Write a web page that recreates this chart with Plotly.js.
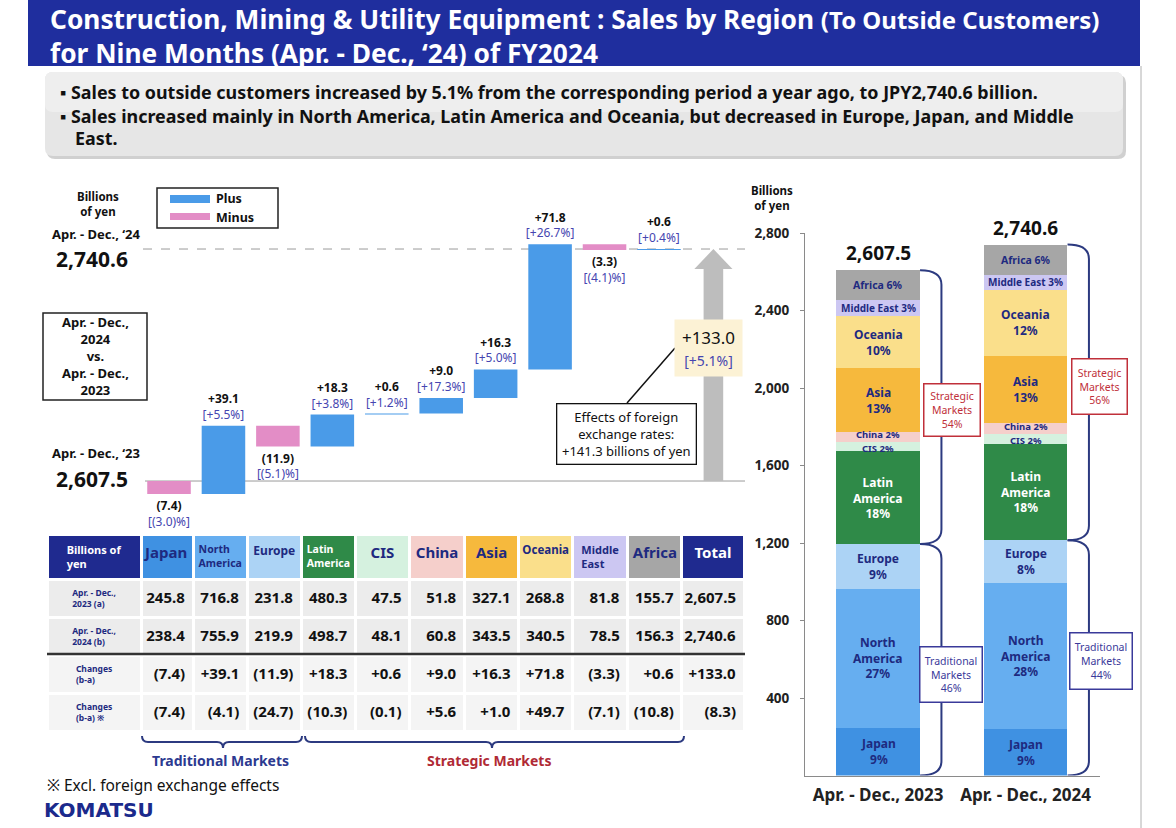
<!DOCTYPE html>
<html><head><meta charset="utf-8">
<script src="https://cdn.plot.ly/plotly-3.0.1.min.js"></script>
<style>html,body{margin:0;padding:0;background:#fff}#chart{width:1176px;height:828px}</style>
</head><body><div id="chart"></div>
<script>
// ---------------- data ----------------
const regions = ['Japan','North America','Europe','Latin America','CIS','China','Asia','Oceania','Middle East','Africa'];
const headerLabels = ['Japan','North<br>America','Europe','Latin<br>America','CIS','China','Asia','Oceania','Middle<br>East','Africa','Total'];
const rowLabels = ['Apr. - Dec.,<br>2023 (a)','Apr. - Dec.,<br>2024 (b)','Changes<br>(b-a)','Changes<br>(b-a) ※'];
const sales2023 = [245.8,716.8,231.8,480.3,47.5,51.8,327.1,268.8,81.8,155.7];
const sales2024 = [238.4,755.9,219.9,498.7,48.1,60.8,343.5,340.5,78.5,156.3];
const changes = [-7.4,39.1,-11.9,18.3,0.6,9.0,16.3,71.8,-3.3,0.6];
const changePct = [-3.0,5.5,-5.1,3.8,1.2,17.3,5.0,26.7,-4.1,0.4];
const changesExFx = [-7.4,-4.1,-24.7,-10.3,-0.1,5.6,1.0,49.7,-7.1,-10.8];
const total2023 = 2607.5, total2024 = 2740.6, totalChange = 133.0, totalChangePct = 5.1, totalExFx = -8.3;
const fxEffect = 141.3;
const share2023 = [9,27,9,18,2,2,13,10,3,6];
const share2024 = [9,28,8,18,2,2,13,12,3,6];
const periodLabels = ['Apr. - Dec., 2023','Apr. - Dec., 2024'];
const traditionalShare = [46,44];
const strategicShare = [54,56];
const yTicks2 = [400,800,1200,1600,2000,2400,2800];

// ---------------- style ----------------
const FONT = 'Noto Sans, Liberation Sans, Arial, sans-serif';
const NAVY = '#1e2a80';
const RED = '#c0303a';
const PCT = '#4545b0';
const regionColors = ['#3f91e2','#66aef0','#acd3f5','#2f8a48','#d5f1df','#f5cfcb','#f6b93d','#fadf8b','#ccc7f2','#a6a6a6'];
const regionTextColors = [NAVY,NAVY,NAVY,'#ffffff',NAVY,NAVY,NAVY,NAVY,NAVY,NAVY];
const W = 1176, H = 828;
const X = p => p / W;
const Y = p => 1 - p / H;

const fmt1 = v => v.toLocaleString('en-US',{minimumFractionDigits:1,maximumFractionDigits:1});
const fmtChange = v => v >= 0 ? '+' + fmt1(v) : '(' + fmt1(-v) + ')';
const fmtPct = v => v >= 0 ? '[+' + v.toFixed(1) + '%]' : '[(' + (-v).toFixed(1) + ')%]';

// ---------------- traces ----------------
const traces = [];

// waterfall
traces.push({
  type:'waterfall', xaxis:'x', yaxis:'y',
  x: regions.map((_,i)=>i), y: changes, base: total2023,
  measure: regions.map(()=> 'relative'),
  width: 0.8,
  text: changes.map((v,i)=>`<b>${fmtChange(v)}</b><br><span style="color:${PCT}">${fmtPct(changePct[i])}</span>`),
  textinfo:'text', textposition:'outside', constraintext:'none', cliponaxis:false,
  textfont:{family:FONT,size:12,color:'#111'},
  increasing:{marker:{color:'#4a9be8',line:{width:0}}},
  decreasing:{marker:{color:'#e38dc6',line:{width:0}}},
  connector:{visible:false},
  hoverinfo:'skip', showlegend:false
});

// table
const tableCols = [rowLabels];
regions.forEach((r,i)=>{
  tableCols.push([fmt1(sales2023[i]), fmt1(sales2024[i]), fmtChange(changes[i]), fmtChange(changesExFx[i])]);
});
tableCols.push([fmt1(total2023), fmt1(total2024), fmtChange(totalChange), fmtChange(totalExFx)]);
const headerFill = ['#1f2a8f', ...regionColors, '#1f2a8f'];
const headerFontColor = ['#ffffff', NAVY, NAVY, NAVY, '#ffffff', NAVY, NAVY, NAVY, NAVY, NAVY, NAVY, '#ffffff'];
const headerFontSize = [11,15,10.5,12,10.5,15,15,15,11.5,11,15,15];
traces.push({
  type:'table',
  domain:{x:[X(47),X(745)], y:[Y(745),Y(534)]},
  columnwidth:[94,52,54,54,54,54,55,54,54,55,54,62],
  header:{
    values:['Billions of<br>yen', ...headerLabels].map(s=>'<b>'+s+'</b>'),
    fill:{color:headerFill},
    font:{family:FONT,size:headerFontSize,color:headerFontColor},
    align:'center', height:44, line:{color:'#ffffff',width:3}
  },
  cells:{
    values: tableCols.map(col=>col.map(s=>'<b>'+s+'</b>')),
    fill:{color: tableCols.map(()=>['#ececec','#ececec','#f4f4f4','#f4f4f4'])},
    font:{family:FONT,size:tableCols.map((c,i)=> i===0?8.5:15),color:tableCols.map((c,i)=> i===0?NAVY:'#111')},
    align:tableCols.map((c,i)=> i===0?'center':'right'),
    height:34, line:{color:'#ffffff',width:3}
  }
});

// stacked bars
regions.forEach((r,i)=>{
  traces.push({
    type:'bar', xaxis:'x2', yaxis:'y2',
    x:[0,1], y:[sales2023[i], sales2024[i]], width:0.563,
    marker:{color:regionColors[i], line:{width:0}},
    hoverinfo:'skip', showlegend:false, name:r
  });
});

// ---------------- shapes ----------------
const shapes = [];
const P = cmds => cmds.map(c => c[0] + ' ' + c.slice(1).map((v,k)=> (k%2===0 ? X(v) : Y(v)).toFixed(5)).reduce((a,v,k)=> a + (k%2===0 ? (k? ' ':'') + v : ',' + v), '')).join(' ');
const rectPx = (x0,y0,x1,y1,style) => Object.assign({type:'rect',xref:'paper',yref:'paper',x0:X(x0),x1:X(x1),y0:Y(y1),y1:Y(y0)},style);
const linePx = (x0,y0,x1,y1,style) => Object.assign({type:'line',xref:'paper',yref:'paper',x0:X(x0),x1:X(x1),y0:Y(y0),y1:Y(y1)},style);

// header bar
shapes.push(rectPx(28,0,1140,66,{fillcolor:'#1f2e9e',line:{width:0},layer:'below'}));
// right border
shapes.push(linePx(1141,66,1141,828,{line:{color:'#b0b0b0',width:1}}));
// summary box (shadow + box)
const rr = (x0,y0,x1,y1,r) => P([['M',x0+r,y0],['L',x1-r,y0],['Q',x1,y0,x1,y0+r],['L',x1,y1-r],['Q',x1,y1,x1-r,y1],['L',x0+r,y1],['Q',x0,y1,x0,y1-r],['L',x0,y0+r],['Q',x0,y0,x0+r,y0]]) + ' Z';
shapes.push({type:'path',xref:'paper',yref:'paper',path:rr(47,75,1126,159,8),fillcolor:'#d0d0d0',line:{width:0},layer:'below'});
shapes.push({type:'path',xref:'paper',yref:'paper',path:rr(45,72,1123,156,8),fillcolor:'#e6e6e6',line:{width:0},layer:'below'});
shapes.push({type:'path',xref:'paper',yref:'paper',path:rr(45,72,1123,112,8),fillcolor:'#eeeeee',line:{width:0},layer:'below'});

// legend box
shapes.push(rectPx(157,188,278,228,{line:{color:'#222',width:1.5}}));
shapes.push(rectPx(170,195,210,203,{fillcolor:'#4a9be8',line:{width:0}}));
shapes.push(rectPx(170,213,210,220,{fillcolor:'#e38dc6',line:{width:0}}));
// comparison box
shapes.push(rectPx(43,313,147,400,{line:{color:'#222',width:1.5}}));
// reference lines (data y)
shapes.push({type:'line',xref:'paper',yref:'y',x0:X(143),x1:X(745),y0:total2024,y1:total2024,line:{color:'#9a9a9a',width:1,dash:'dash'},layer:'below'});
shapes.push({type:'line',xref:'paper',yref:'y',x0:X(145),x1:X(745),y0:total2023,y1:total2023,line:{color:'#9a9a9a',width:1},layer:'below'});
// total arrow (data coords)
const ax = regions.length, sw = 0.18, hw = 0.35, hh = 11.5;
shapes.push({type:'path',xref:'x',yref:'y',layer:'below',fillcolor:'#bdbdbd',line:{width:0},
  path:`M ${ax-sw},${total2023} L ${ax-sw},${total2024-hh} L ${ax-hw},${total2024-hh} L ${ax},${total2024} L ${ax+hw},${total2024-hh} L ${ax+sw},${total2024-hh} L ${ax+sw},${total2023} Z`});
// callout connector
shapes.push(linePx(627,403,675,348,{line:{color:'#111',width:1.5}}));
// table separator
shapes.push(linePx(47,654,745,654,{line:{color:'#333',width:2.5}}));
// bottom braces
const hBrace = (x0,x1,xt,yTop,yLine,yTip,r) => P([['M',x0,yTop],['Q',x0,yLine,x0+r,yLine],['L',xt-r,yLine],['Q',xt,yLine,xt,yTip],['Q',xt,yLine,xt+r,yLine],['L',x1-r,yLine],['Q',x1,yLine,x1,yTop]]);
shapes.push({type:'path',xref:'paper',yref:'paper',path:hBrace(142,302,223,736,742,748,6),line:{color:'#2c3a80',width:2}});
shapes.push({type:'path',xref:'paper',yref:'paper',path:hBrace(305,684,492,736,742,748,6),line:{color:'#2c3a80',width:2}});
// right chart braces (data coords x2/y2)
const vBrace = (xe,xl,xt,yB,yT,r) => { const yM=(yB+yT)/2; return `M ${xe},${yB} Q ${xl},${yB} ${xl},${yB+r} L ${xl},${yM-r} Q ${xl},${yM} ${xt},${yM} Q ${xl},${yM} ${xl},${yM+r} L ${xl},${yT-r} Q ${xl},${yT} ${xe},${yT}`; };
[sales2023, sales2024].forEach((vals,b)=>{
  const trad = vals[0]+vals[1]+vals[2];
  const tot = vals.reduce((a,v)=>a+v,0);
  shapes.push({type:'path',xref:'x2',yref:'y2',path:vBrace(b+0.285,b+0.43,b+0.52,0,trad,75),line:{color:'#2c3a80',width:2}});
  shapes.push({type:'path',xref:'x2',yref:'y2',path:vBrace(b+0.285,b+0.43,b+0.52,trad,tot,75),line:{color:'#2c3a80',width:2}});
});

// ---------------- annotations ----------------
const ann = [];
const A = (x,y,text,opt) => ann.push(Object.assign({xref:'paper',yref:'paper',x:X(x),y:Y(y),xanchor:'center',yanchor:'middle',text,showarrow:false,font:{family:FONT,size:12,color:'#111'}},opt||{}));
const F = (size,color,weight) => ({family:FONT,size,color:color||'#111',weight:weight||'normal'});

A(58,92,'▪ Sales to outside customers increased by 5.1% from the corresponding period a year ago, to JPY2,740.6 billion.',{xanchor:'left',font:F(17.9,'#111','bold')});
A(58,116,'▪ Sales increased mainly in North America, Latin America and Oceania, but decreased in Europe, Japan, and Middle',{xanchor:'left',font:F(17.9,'#111','bold')});
A(73,138,'East.',{xanchor:'left',font:F(17.9,'#111','bold')});

A(98,204,'Billions<br>of yen',{font:F(11.5,'#111','bold')});
A(214,199,'Plus',{xanchor:'left',font:F(12.5,'#111','bold')});
A(214,217,'Minus',{xanchor:'left',font:F(12.5,'#111','bold')});
A(96,234,"Apr. - Dec., ‘24",{font:F(13,'#111','bold')});
A(92,259,fmt1(total2024),{font:F(21,'#111','bold')});
A(95,356,'Apr. - Dec.,<br>2024<br>vs.<br>Apr. - Dec.,<br>2023',{font:F(13,'#111','bold')});
A(96,453,"Apr. - Dec., ‘23",{font:F(13,'#111','bold')});
A(92,479,fmt1(total2023),{font:F(21,'#111','bold')});

A(708,348,`${fmtChange(totalChange)}<br><span style="font-size:14px;color:${PCT}">${fmtPct(totalChangePct)}</span>`,{font:F(17),bgcolor:'#fcf2d5',width:63,height:52,borderpad:2});
A(626,434,`Effects of foreign<br>exchange rates:<br>+${fmt1(fxEffect)} billions of yen`,{font:F(13),bgcolor:'#ffffff',bordercolor:'#111',borderwidth:1.3,width:134,height:55,borderpad:2});

A(772,198,'Billions<br>of yen',{font:F(11.5,'#111','bold')});

// totals above stacked bars
[total2023,total2024].forEach((t,b)=>{
  ann.push({xref:'x2',yref:'y2',x:b,y:t,xanchor:'center',yanchor:'bottom',yshift:2,text:fmt1(t),showarrow:false,font:F(19,'#111','bold')});
});
// segment labels
[[sales2023,share2023],[sales2024,share2024]].forEach(([vals,sh],b)=>{
  let cum = 0;
  vals.forEach((v,i)=>{
    const mid = cum + v/2; cum += v;
    let text, size = 12, yshift = 0;
    const name = regions[i];
    if ([4,5,8,9].includes(i)) { text = `${name} ${sh[i]}%`; size = (i===9)?10.5:(i===8?10:9.5); }
    else if (name.includes(' ')) { text = name.replace(' ','<br>') + `<br>${sh[i]}%`; }
    else { text = `${name}<br>${sh[i]}%`; }
    if (i===4) yshift = -2;
    if (i===5) yshift = 2;
    ann.push({xref:'x2',yref:'y2',x:b,y:mid,yshift,xanchor:'center',yanchor:'middle',text,showarrow:false,font:F(size,regionTextColors[i],'bold')});
  });
});
// market boxes
const boxes = [
  [952,410,58,54,`Strategic<br>Markets<br>${strategicShare[0]}%`,RED],
  [951,674,64,57,`Traditional<br>Markets<br>${traditionalShare[0]}%`,'#3a3a9a'],
  [1099,386,57,57,`Strategic<br>Markets<br>${strategicShare[1]}%`,RED],
  [1101,661,64,58,`Traditional<br>Markets<br>${traditionalShare[1]}%`,'#3a3a9a']
];
boxes.forEach(([x,y,w,h,t,c])=> A(x,y,t,{font:F(10.5,c),bgcolor:'#ffffff',bordercolor:c,borderwidth:1.5,width:w-7,height:h-7,borderpad:2}));

A(221,760,'Traditional Markets',{font:F(14,'#2c3a90','bold')});
A(489,760,'Strategic Markets',{font:F(14,'#b02a35','bold')});
A(45,785,'※ Excl. foreign exchange effects',{xanchor:'left',font:F(15.5)});
A(42,810,'<b>KOMATSU</b>',{xanchor:'left',font:{family:'DejaVu Sans, sans-serif',size:20,color:'#1b2a8c'}});

// ---------------- layout ----------------
const layout = {
  width:W, height:H, margin:{l:0,r:0,t:0,b:0},
  paper_bgcolor:'#ffffff', plot_bgcolor:'rgba(0,0,0,0)',
  showlegend:false, barmode:'stack',
  font:{family:FONT,color:'#111'},
  title:{
    text:'Construction, Mining &amp; Utility Equipment : Sales by Region <span style="font-size:24px">(To Outside Customers)</span><br>for Nine Months (Apr. - Dec., ‘24) of FY2024',
    x:X(50), xanchor:'left', xref:'paper', y:1-1/H, yanchor:'top', yref:'container',
    font:{family:FONT,size:26.3,color:'#ffffff',weight:'bold'}
  },
  xaxis:{domain:[X(140),X(760)],range:[-0.533,10.856],visible:false,fixedrange:true},
  yaxis:{domain:[Y(530),Y(180)],range:[2579.4,2780.2],visible:false,fixedrange:true},
  xaxis2:{domain:[X(805),X(1100)],range:[-0.495,1.505],anchor:'y2',tickvals:[0,1],ticktext:periodLabels,
    showline:true,linecolor:'#8a8a8a',linewidth:1.5,ticks:'',showgrid:false,zeroline:false,ticklabelstandoff:4,
    tickfont:F(17,'#222','bold')},
  yaxis2:{domain:[Y(775.5),Y(233)],range:[0,2800],anchor:'x2',tickvals:yTicks2,tickformat:',',
    showline:true,linecolor:'#8a8a8a',linewidth:1,ticks:'outside',ticklen:4,tickcolor:'#8a8a8a',ticklabelstandoff:8,
    showgrid:false,zeroline:false,tickfont:F(13.5,'#222','bold')},
  shapes, annotations:ann
};
Plotly.newPlot('chart', traces, layout, {displayModeBar:false, staticPlot:true}).then(gd=>{
  // keep the two-line title inside the header band (Plotly shifts multi-line titles upward)
  const t = gd.querySelector('.gtitle');
  if (t) {
    const bb = t.getBBox();
    const dy = 0.5 - bb.y;
    if (Math.abs(dy) > 0.5) t.setAttribute('transform', `translate(0,${dy})`);
  }
});
</script>
</body></html>
